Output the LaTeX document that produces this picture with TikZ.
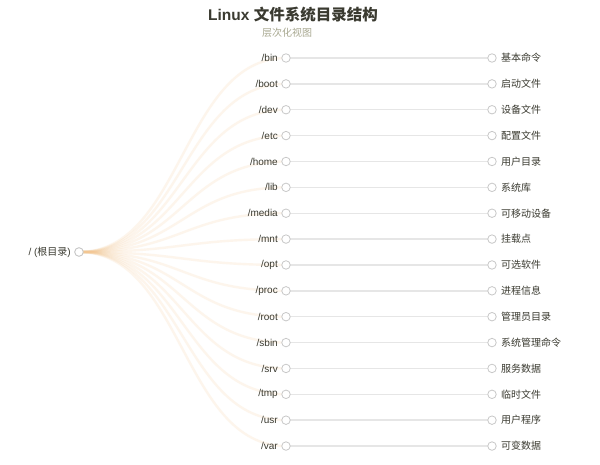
\documentclass[tikz,border=0pt]{standalone}
\usepackage{fontspec}
\setmainfont{Liberation Sans}
\newfontfamily\cjk{Noto Sans CJK SC}
\definecolor{txt}{HTML}{3A3A30}
\definecolor{sub}{HTML}{A8A890}
\definecolor{edge}{HTML}{F3C58E}
\definecolor{leafline}{HTML}{E6E6E6}
\definecolor{ring}{HTML}{C8C8C8}
\begin{document}
\begin{tikzpicture}[x=1pt,y=-1pt,
  dot/.style={circle,draw=ring,fill=white,line width=0.8pt,minimum size=8.5pt,inner sep=0pt},
  lbl/.style={text=txt,font=\fontsize{10}{12}\selectfont,inner sep=0pt},
  cj/.style={text=txt,font=\cjk\fontsize{10}{12}\selectfont,inner sep=0pt},
  branch/.style={draw=edge,line width=2.4pt,opacity=0.16},
  leafedge/.style={draw=leafline,line width=1.4pt}]
\useasboundingbox (0,0) rectangle (600,465);
\fill[white] (0,0) rectangle (600,465);
\node[font=\bfseries\fontsize{15.5}{18}\selectfont,text=txt,inner sep=0pt] (title) at (293,15) {Linux {\cjk 文件系统目录结构}};
\node[cj,text=sub] (subtitle) at (287,33) {层次化视图};
\node[dot] (root) at (79,252) {};
\node[lbl,anchor=east] (rootlbl) at (71,252) {/ ({\cjk 根目录})};
\foreach \i/\d/\c in {0/bin/基本命令,1/boot/启动文件,2/dev/设备文件,3/etc/配置文件,4/home/用户目录,5/lib/系统库,6/media/可移动设备,7/mnt/挂载点,8/opt/可选软件,9/proc/进程信息,10/root/管理员目录,11/sbin/系统管理命令,12/srv/服务数据,13/tmp/临时文件,14/usr/用户程序,15/var/可变数据}{
  \pgfmathsetmacro\yy{58+\i*25.87}
  \path[branch] (root.center) .. controls (182.5,252) and (182.5,\yy) .. (286,\yy) coordinate (m\i);
  \draw[leafedge] (286,\yy) -- (492,\yy);
  \node[dot] (mid\i) at (286,\yy) {};
  \node[dot] (leaf\i) at (492,\yy) {};
  \node[lbl,anchor=east] (midlbl\i) at (278,\yy) {/\d};
  \node[cj,anchor=west] (leaflbl\i) at (501,\yy) {\c};
}
\node[dot] at (root) {};
\end{tikzpicture}
\end{document}
